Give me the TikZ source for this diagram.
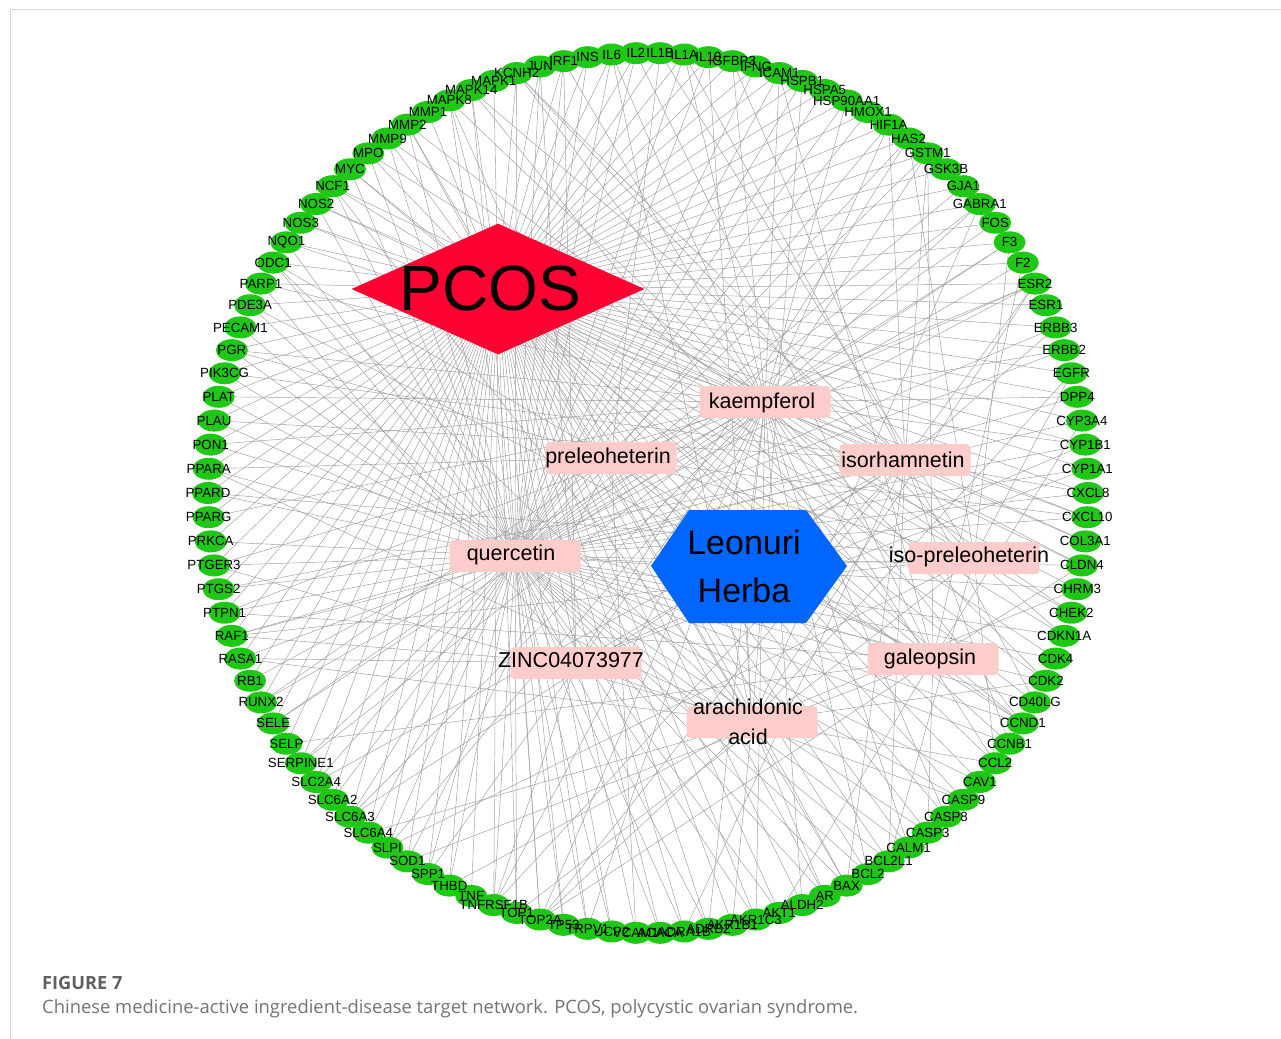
\documentclass[tikz,border=0pt]{standalone}
\usepackage{fontspec}
\setmainfont{Liberation Sans}
\newfontfamily\capfont{Open Sans}
\usetikzlibrary{shapes.geometric}
\pgfdeclarelayer{bg}
\pgfsetlayers{bg,main}
\definecolor{tgreen}{RGB}{30,200,20}
\definecolor{pcosred}{RGB}{255,0,51}
\definecolor{herbblue}{RGB}{0,102,255}
\definecolor{ingpink}{RGB}{255,204,204}
\definecolor{edgegray}{RGB}{155,155,155}
\definecolor{capgray}{RGB}{95,95,95}
\definecolor{captxt}{RGB}{115,115,115}
\definecolor{framegray}{RGB}{215,215,215}
\tikzset{
  target/.style={ellipse, fill=tgreen, minimum width=32pt, minimum height=22pt, inner sep=0pt},
  tlabel/.style={font=\fontsize{13.3}{13.3}\selectfont, inner sep=0pt, text=black},
  ingbox/.style={rectangle, rounded corners=4pt, fill=ingpink, minimum width=131pt, minimum height=32pt, inner sep=0pt},
  inglabel/.style={font=\fontsize{21.5}{30}\selectfont, inner sep=0pt, align=center},
  netedge/.style={draw=edgegray, line width=0.45pt},
  pcosshape/.style={diamond, fill=pcosred, minimum width=293pt, minimum height=131pt, inner sep=0pt},
}
\begin{document}
\begin{tikzpicture}[x=1pt,y=-1pt]
\useasboundingbox (0,0) rectangle (1281,1038);
\draw[framegray, line width=1pt] (10,1040) -- (10,10) -- (1283,10);
% targets
\foreach \name [count=\k] in {ACACA,ADRA1B,ADRB2,AKR1B1,AKR1C3,AKT1,ALDH2,AR,BAX,BCL2,BCL2L1,CALM1,CASP3,CASP8,CASP9,CAV1,CCL2,CCNB1,CCND1,CD40LG,CDK2,CDK4,CDKN1A,CHEK2,CHRM3,CLDN4,COL3A1,CXCL10,CXCL8,CYP1A1,CYP1B1,CYP3A4,DPP4,EGFR,ERBB2,ERBB3,ESR1,ESR2,F2,F3,FOS,GABRA1,GJA1,GSK3B,GSTM1,HAS2,HIF1A,HMOX1,HSP90AA1,HSPA5,HSPB1,ICAM1,IFNG,IGFBP3,IL10,IL1A,IL1B,IL2,IL6,INS,IRF1,JUN,KCNH2,MAPK1,MAPK14,MAPK8,MMP1,MMP2,MMP9,MPO,MYC,NCF1,NOS2,NOS3,NQO1,ODC1,PARP1,PDE3A,PECAM1,PGR,PIK3CG,PLAT,PLAU,PON1,PPARA,PPARD,PPARG,PRKCA,PTGER3,PTGS2,PTPN1,RAF1,RASA1,RB1,RUNX2,SELE,SELP,SERPINE1,SLC2A4,SLC6A2,SLC6A3,SLC6A4,SLPI,SOD1,SPP1,THBD,TNF,TNFRSF1B,TOP1,TOP2A,TP53,TRPV1,UCP2,VCAM1}{
  \pgfmathsetmacro\ang{270+(\k-0.5)*3.1578947}
  \node[target] (t\k) at ({648+440*cos(\ang)},{493-440*sin(\ang)}) {};
}
\foreach \name [count=\k] in {ACACA,ADRA1B,ADRB2,AKR1B1,AKR1C3,AKT1,ALDH2,AR,BAX,BCL2,BCL2L1,CALM1,CASP3,CASP8,CASP9,CAV1,CCL2,CCNB1,CCND1,CD40LG,CDK2,CDK4,CDKN1A,CHEK2,CHRM3,CLDN4,COL3A1,CXCL10,CXCL8,CYP1A1,CYP1B1,CYP3A4,DPP4,EGFR,ERBB2,ERBB3,ESR1,ESR2,F2,F3,FOS,GABRA1,GJA1,GSK3B,GSTM1,HAS2,HIF1A,HMOX1,HSP90AA1,HSPA5,HSPB1,ICAM1,IFNG,IGFBP3,IL10,IL1A,IL1B,IL2,IL6,INS,IRF1,JUN,KCNH2,MAPK1,MAPK14,MAPK8,MMP1,MMP2,MMP9,MPO,MYC,NCF1,NOS2,NOS3,NQO1,ODC1,PARP1,PDE3A,PECAM1,PGR,PIK3CG,PLAT,PLAU,PON1,PPARA,PPARD,PPARG,PRKCA,PTGER3,PTGS2,PTPN1,RAF1,RASA1,RB1,RUNX2,SELE,SELP,SERPINE1,SLC2A4,SLC6A2,SLC6A3,SLC6A4,SLPI,SOD1,SPP1,THBD,TNF,TNFRSF1B,TOP1,TOP2A,TP53,TRPV1,UCP2,VCAM1}{
  \node[tlabel] (l\k) at (t\k) {\name};
}
% disease
\node[pcosshape] (pcos) at (498,289) {};
\node[font=\fontsize{64}{64}\selectfont, inner sep=0pt] (pcostext) at (490,288) {PCOS};
% herb
\fill[herbblue] (651,566) -- (689,510) -- (806,510) -- (847,566) -- (806,623) -- (689,623) -- cycle;
\node[font=\fontsize{34}{48}\selectfont, align=center, inner sep=0pt] (herb) at (744,566) {Leonuri\\Herba};
% ingredients
\node[ingbox] (kae) at (765,402) {};
\node[inglabel] (kaet) at (762,403) {kaempferol};
\node[ingbox] (pre) at (611,458) {};
\node[inglabel] (pret) at (608,458) {preleoheterin};
\node[ingbox] (iso) at (905,460) {};
\node[inglabel] (isot) at (903,460) {isorhamnetin};
\node[ingbox] (que) at (515,556) {};
\node[inglabel] (quet) at (511,555) {quercetin};
\node[ingbox] (ipre) at (974,558) {};
\node[inglabel] (ipret) at (969,557) {iso-preleoheterin};
\node[ingbox] (zinc) at (576,663) {};
\node[inglabel] (zinct) at (571,660) {ZINC04073977};
\node[ingbox] (gal) at (933,659) {};
\node[inglabel] (galt) at (930,659) {galeopsin};
\node[ingbox] (ara) at (752,722) {};
\node[inglabel] (arat) at (748,722) {arachidonic\\acid};
% edges
\begin{pgfonlayer}{bg}
\foreach \i in {kae,pre,iso,que,ipre,zinc,gal,ara}{
  \draw[netedge] (herb.center) -- (\i.center);
}
\foreach \k in {1,...,114}{
  \draw[netedge] (t\k.center) -- (pcos.center);
  \pgfmathtruncatemacro\qa{mod(\k*7,10)}
  \ifnum\qa<8 \draw[netedge] (t\k.center) -- (que.center);\fi
  \pgfmathtruncatemacro\qb{mod(\k*3,7)}
  \ifnum\qb<3 \draw[netedge] (t\k.center) -- (kae.center);\fi
  \pgfmathtruncatemacro\qc{mod(\k*5,9)}
  \ifnum\qc<2 \draw[netedge] (t\k.center) -- (iso.center);\fi
  \pgfmathtruncatemacro\qd{mod(\k*11,13)}
  \ifnum\qd<2 \draw[netedge] (t\k.center) -- (gal.center);\fi
  \pgfmathtruncatemacro\qe{mod(\k*13,17)}
  \ifnum\qe<3 \draw[netedge] (t\k.center) -- (ara.center);\fi
  \pgfmathtruncatemacro\qf{mod(\k*17,19)}
  \ifnum\qf<2 \draw[netedge] (t\k.center) -- (pre.center);\fi
  \pgfmathtruncatemacro\qg{mod(\k*19,23)}
  \ifnum\qg<3 \draw[netedge] (t\k.center) -- (ipre.center);\fi
  \pgfmathtruncatemacro\qh{mod(\k*29,31)}
  \ifnum\qh<3 \draw[netedge] (t\k.center) -- (zinc.center);\fi
}
\end{pgfonlayer}
% caption
\node[anchor=base west, inner sep=0pt, text=capgray, font=\capfont\bfseries\fontsize{18.2}{18}\selectfont] (figlbl) at (42,989) {FIGURE 7};
\node[anchor=base west, inner sep=0pt, text=captxt, font=\capfont\fontsize{18.4}{18}\selectfont] (figcap) at (42,1013) {Chinese medicine-active ingredient-disease target network. PCOS, polycystic ovarian syndrome.};
\end{tikzpicture}
\end{document}
